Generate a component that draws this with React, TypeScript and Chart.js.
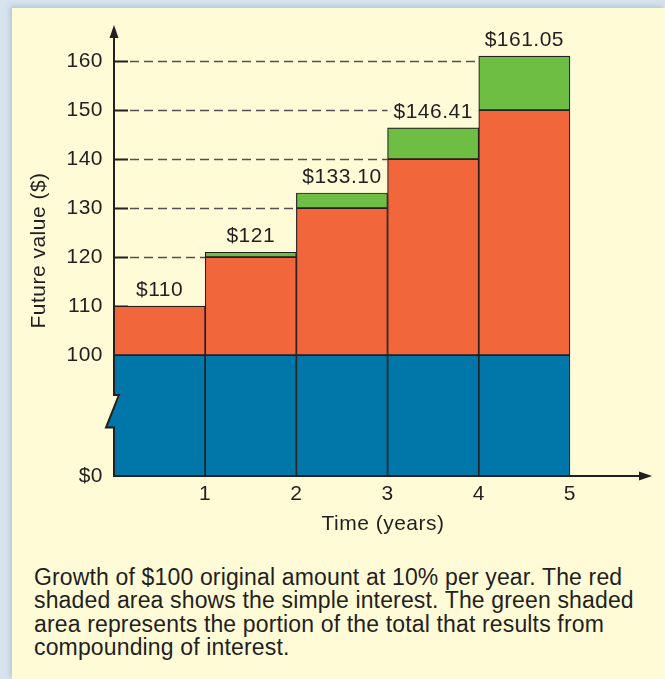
import React, { useEffect, useRef } from "react";
import { Chart, registerables } from "chart.js";

Chart.register(...registerables);

// ---- data ----
const years = [1, 2, 3, 4, 5];
const principal = [100, 100, 100, 100, 100];
const simpleTotal = [110, 120, 130, 140, 150];
const compoundTotal = [110, 121, 133.1, 146.41, 161.05];
const valueLabels = ["$110", "$121", "$133.10", "$146.41", "$161.05"];
const yTickValues = [100, 110, 120, 130, 140, 150, 160];
const xTickValues = [1, 2, 3, 4, 5];
const zeroLabel = "$0";
const yTitle = "Future value ($)";
const xTitle = "Time (years)";
const captionLines = [
  "Growth of $100 original amount at 10% per year. The red",
  "shaded area shows the simple interest. The green shaded",
  "area represents the portion of the total that results from",
  "compounding of interest.",
];

// ---- scale settings (broken axis: "$0" sits at AXIS_ZERO) ----
const AXIS_ZERO = 75.3;
const AXIS_TOP = 167.4;
const X_MAX = 5.9;
const LABEL_REACH = 4; // value units a bar label rises above its bar

// ---- styles ----
const INK = "#231f20";
const BLUE = "#0077a8";
const RED = "#f1663a";
const GREEN = "#6fbe44";
const YELLOW = "#fffbd6";
const FONT = '"Liberation Sans", Arial, sans-serif';
const SPACING = "0.5px";

const decorPlugin = {
  id: "decor",
  beforeDraw(chart: any) {
    chart.ctx.letterSpacing = SPACING;
  },
  beforeDatasetsDraw(chart: any) {
    const { ctx, scales } = chart;
    const x = scales.x;
    const y = scales.y;
    const x0 = x.getPixelForValue(0);
    ctx.save();
    yTickValues.forEach((t) => {
      if (t <= principal[0]) return;
      const py = Math.round(y.getPixelForValue(t)) + 0.5;
      const idx = compoundTotal.findIndex((v) => v + LABEL_REACH >= t);
      const xe = x.getPixelForValue(years[idx] - 1);
      ctx.setLineDash([]);
      ctx.strokeStyle = INK;
      ctx.lineWidth = 2;
      ctx.beginPath();
      ctx.moveTo(x0, py);
      ctx.lineTo(x0 + 14, py);
      ctx.stroke();
      if (xe > x0 + 16) {
        ctx.setLineDash([9, 5]);
        ctx.strokeStyle = "#555050";
        ctx.lineWidth = 1.5;
        ctx.beginPath();
        ctx.moveTo(x0 + 16, py);
        ctx.lineTo(xe, py);
        ctx.stroke();
      }
    });
    ctx.restore();
  },
  afterDraw(chart: any) {
    const { ctx, scales, chartArea } = chart;
    const x = scales.x;
    const y = scales.y;
    const x0 = x.getPixelForValue(0);
    const yz = y.getPixelForValue(AXIS_ZERO);
    const ya = y.getPixelForValue(AXIS_ZERO + 0.67 * (principal[0] - AXIS_ZERO));
    const yb = y.getPixelForValue(AXIS_ZERO + 0.4 * (principal[0] - AXIS_ZERO));
    const jut = 5;
    const back = 8;
    const yCross = ya + ((yb - ya) * jut) / (jut + back);
    ctx.save();
    ctx.letterSpacing = "0px";
    // axis break cut-out
    ctx.fillStyle = YELLOW;
    ctx.beginPath();
    ctx.moveTo(x0 - 2, ya);
    ctx.lineTo(x0 + jut + 1, ya);
    ctx.lineTo(x0 + 0.5, yCross);
    ctx.lineTo(x0 - 2, yCross);
    ctx.closePath();
    ctx.fill();
    ctx.fillStyle = BLUE;
    ctx.beginPath();
    ctx.moveTo(x0 + 1, yCross - 1);
    ctx.lineTo(x0 - back, yb);
    ctx.lineTo(x0 + 1, yb);
    ctx.closePath();
    ctx.fill();
    // axes
    ctx.strokeStyle = INK;
    ctx.fillStyle = INK;
    ctx.lineWidth = 2;
    ctx.lineJoin = "miter";
    ctx.beginPath();
    ctx.moveTo(x0, chartArea.top + 10);
    ctx.lineTo(x0, ya);
    ctx.lineTo(x0 + jut, ya);
    ctx.lineTo(x0 - back, yb);
    ctx.lineTo(x0, yb);
    ctx.lineTo(x0, yz);
    ctx.lineTo(chartArea.right - 10, yz);
    ctx.stroke();
    // arrow heads
    ctx.beginPath();
    ctx.moveTo(x0, chartArea.top);
    ctx.lineTo(x0 - 4.5, chartArea.top + 13);
    ctx.lineTo(x0 + 4.5, chartArea.top + 13);
    ctx.closePath();
    ctx.fill();
    ctx.beginPath();
    ctx.moveTo(chartArea.right, yz);
    ctx.lineTo(chartArea.right - 13, yz - 4.5);
    ctx.lineTo(chartArea.right - 13, yz + 4.5);
    ctx.closePath();
    ctx.fill();
    // value labels
    ctx.letterSpacing = SPACING;
    ctx.font = "21px " + FONT;
    ctx.textAlign = "center";
    ctx.textBaseline = "middle";
    years.forEach((yr, i) => {
      const px = x.getPixelForValue(yr - 0.5);
      const py = y.getPixelForValue(compoundTotal[i]) - 16;
      ctx.fillText(valueLabels[i], px, py);
    });
    ctx.restore();
  },
};

export default function App() {
  const ref = useRef<HTMLCanvasElement>(null);
  useEffect(() => {
    const canvas = ref.current;
    if (!canvas) return;
    const blueData = years.map((yr, i) => ({ x: yr - 0.5, y: [AXIS_ZERO, principal[i]] }));
    const redData = years.map((yr, i) => ({ x: yr - 0.5, y: [principal[i], simpleTotal[i]] }));
    const greenData = years.map((yr, i) => ({
      x: yr - 0.5,
      y: compoundTotal[i] > simpleTotal[i] ? [simpleTotal[i], compoundTotal[i]] : null,
    }));
    const barCommon = {
      borderColor: INK,
      borderWidth: 1.2,
      barPercentage: 1,
      categoryPercentage: 1,
      grouped: false,
      borderSkipped: false,
    };
    const chart = new Chart(canvas, {
      type: "bar",
      data: {
        datasets: [
          { label: "Principal", data: blueData as any, backgroundColor: BLUE, ...barCommon },
          { label: "Simple interest", data: redData as any, backgroundColor: RED, ...barCommon },
          { label: "Compound interest", data: greenData as any, backgroundColor: GREEN, ...barCommon },
        ],
      },
      options: {
        animation: false,
        responsive: false,
        devicePixelRatio: 1,
        layout: { padding: { top: 17, right: 13, left: 0, bottom: 0 } },
        plugins: { legend: { display: false }, tooltip: { enabled: false } },
        scales: {
          x: {
            type: "linear",
            position: "bottom",
            offset: false,
            min: 0,
            max: X_MAX,
            grid: { display: false, drawTicks: false, offset: false },
            border: { display: false },
            afterBuildTicks: (s: any) => {
              s.ticks = xTickValues.map((v) => ({ value: v }));
            },
            afterFit: (s: any) => {
              s.height = 72;
              s.paddingLeft = 0;
              s.paddingRight = 0;
            },
            ticks: {
              color: INK,
              font: { family: FONT, size: 21 },
              padding: 6,
              maxRotation: 0,
              autoSkip: false,
              callback: (v: any) => String(v),
            },
            title: {
              display: true,
              text: xTitle,
              color: INK,
              font: { family: FONT, size: 21 },
              padding: { top: 0, bottom: 11 },
            },
          },
          y: {
            type: "linear",
            min: AXIS_ZERO,
            max: AXIS_TOP,
            grid: { display: false, drawTicks: false },
            border: { display: false },
            afterBuildTicks: (s: any) => {
              s.ticks = [AXIS_ZERO, ...yTickValues].map((v) => ({ value: v }));
            },
            afterFit: (s: any) => {
              s.width = 102;
              s.paddingTop = 0;
              s.paddingBottom = 0;
            },
            ticks: {
              color: INK,
              font: { family: FONT, size: 21 },
              padding: 11,
              autoSkip: false,
              callback: (v: any) => (v === AXIS_ZERO ? zeroLabel : String(v)),
            },
            title: {
              display: true,
              text: yTitle,
              color: INK,
              font: { family: FONT, size: 21 },
              padding: { top: 15, bottom: 0 },
            },
          },
        },
      },
      plugins: [decorPlugin],
    } as any);
    return () => chart.destroy();
  }, []);

  return (
    <div
      style={{
        position: "absolute",
        left: 0,
        top: 0,
        width: 665,
        height: 679,
        overflow: "hidden",
        background: "#d7e4ee",
      }}
    >
      <div
        style={{
          position: "absolute",
          left: 12,
          top: 8,
          width: 653,
          height: 671,
          background: YELLOW,
          boxShadow: "-2px -2px 5px rgba(110,140,165,0.35)",
        }}
      >
        <canvas
          ref={ref}
          width={653}
          height={540}
          style={{ position: "absolute", left: 0, top: 0, width: 653, height: 540 }}
        />
        <div
          style={{
            position: "absolute",
            left: 22,
            top: 558,
            fontFamily: FONT,
            fontSize: 23,
            lineHeight: "23.4px",
            letterSpacing: "0.15px",
            color: INK,
            whiteSpace: "nowrap",
          }}
        >
          {captionLines.map((l, i) => (
            <div key={i}>{l}</div>
          ))}
        </div>
      </div>
    </div>
  );
}
